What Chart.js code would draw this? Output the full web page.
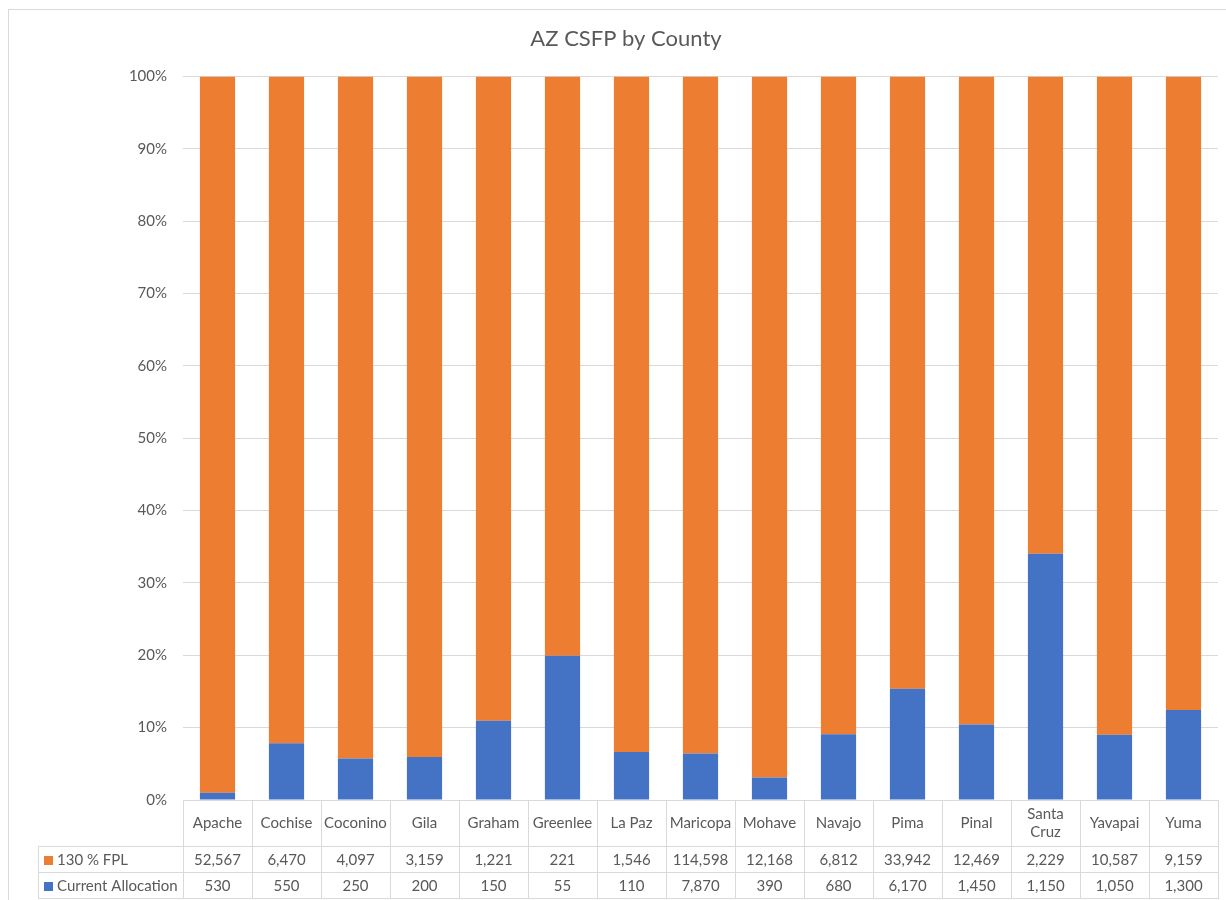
<!DOCTYPE html>
<html>
<head>
<meta charset="utf-8">
<title>AZ CSFP by County</title>
<script src="https://cdn.jsdelivr.net/npm/chart.js@4"></script>
<style>
  html, body { margin: 0; padding: 0; background: #fff; }
  canvas { display: block; }
</style>
</head>
<body>
<canvas id="grafico" width="1226" height="900"></canvas>
<script>
const counties = ['Apache', 'Cochise', 'Coconino', 'Gila', 'Graham', 'Greenlee', 'La Paz', 'Maricopa',
  'Mohave', 'Navajo', 'Pima', 'Pinal', 'Santa Cruz', 'Yavapai', 'Yuma'];
const fpl130 = [52567, 6470, 4097, 3159, 1221, 221, 1546, 114598, 12168, 6812, 33942, 12469, 2229, 10587, 9159];
const allocation = [530, 550, 250, 200, 150, 55, 110, 7870, 390, 680, 6170, 1450, 1150, 1050, 1300];
const yTicks = [0, 10, 20, 30, 40, 50, 60, 70, 80, 90, 100];

const seriesNames = ['130 % FPL', 'Current Allocation'];
const corLaranja = '#ED7D31';
const corAzul = '#4472C4';
const corTexto = '#595959';
const corLinha = '#d9d9d9';
const fonte = 'Lato, "Open Sans", sans-serif';

// percentuais para o empilhado 100%
const allocPct = allocation.map((v, i) => v / (v + fpl130[i]) * 100);
const fplPct = fpl130.map((v, i) => v / (v + allocation[i]) * 100);

const fmt = n => n.toLocaleString('en-US');

const moldura = {
  id: 'moldura',
  beforeDraw(chart) {
    const c = chart.ctx;
    c.save();
    c.fillStyle = '#fff';
    c.fillRect(0, 0, chart.width, chart.height);
    c.strokeStyle = corLinha;
    c.lineWidth = 1;
    c.strokeRect(8.5, 9.5, chart.width + 10, chart.height + 10);
    c.restore();
  }
};

const tabelaDados = {
  id: 'tabelaDados',
  afterDraw(chart) {
    const c = chart.ctx;
    const area = chart.chartArea;
    const xs = chart.scales.x;
    const n = counties.length;
    const colW = (area.right - area.left) / n;
    const topo = Math.round(area.bottom);
    const linha1 = topo + 46;
    const linha2 = linha1 + 26;
    const linha3 = linha2 + 26;
    const esq = 38;

    c.save();
    c.strokeStyle = corLinha;
    c.lineWidth = 1;
    c.beginPath();
    for (let i = 0; i <= n; i++) {
      const x = Math.round(area.left + i * colW) + 0.5;
      c.moveTo(x, topo);
      c.lineTo(x, linha3 + 0.5);
    }
    c.moveTo(esq + 0.5, linha1);
    c.lineTo(esq + 0.5, linha3 + 0.5);
    [linha1, linha2, linha3].forEach(y => {
      c.moveTo(esq, y + 0.5);
      c.lineTo(Math.round(area.right) + 1, y + 0.5);
    });
    c.stroke();

    c.fillStyle = corTexto;
    c.font = '15px ' + fonte;
    c.textAlign = 'center';
    c.textBaseline = 'middle';
    const yCab = (topo + linha1) / 2;
    counties.forEach((nome, i) => {
      const x = xs.getPixelForValue(i);
      if (nome.includes(' ') && c.measureText(nome).width > colW - 10) {
        const partes = nome.split(' ');
        c.fillText(partes[0], x, yCab - 9);
        c.fillText(partes.slice(1).join(' '), x, yCab + 9);
      } else {
        c.fillText(nome, x, yCab);
      }
    });

    const linhas = [
      { nome: seriesNames[0], cor: corLaranja, valores: fpl130, y: (linha1 + linha2) / 2 + 1 },
      { nome: seriesNames[1], cor: corAzul, valores: allocation, y: (linha2 + linha3) / 2 + 1 }
    ];
    linhas.forEach(l => {
      c.fillStyle = l.cor;
      c.fillRect(44, Math.round(l.y - 4.5), 9, 9);
      c.fillStyle = corTexto;
      c.textAlign = 'left';
      c.fillText(l.nome, 57, l.y);
      c.textAlign = 'center';
      l.valores.forEach((v, i) => {
        c.fillText(fmt(v), xs.getPixelForValue(i), l.y);
      });
    });
    c.restore();
  }
};

const ctx = document.getElementById('grafico').getContext('2d');
new Chart(ctx, {
  type: 'bar',
  data: {
    labels: counties,
    datasets: [
      {
        label: seriesNames[1],
        data: allocPct,
        backgroundColor: corAzul,
        barPercentage: 0.51,
        categoryPercentage: 1
      },
      {
        label: seriesNames[0],
        data: fplPct,
        backgroundColor: corLaranja,
        barPercentage: 0.51,
        categoryPercentage: 1
      }
    ]
  },
  options: {
    responsive: false,
    animation: false,
    // left padding maior só para centrar o título como no original
    layout: { padding: { left: 34, right: 8, top: 0, bottom: 100 } },
    plugins: {
      legend: { display: false },
      tooltip: { enabled: false },
      title: {
        display: true,
        text: 'AZ CSFP by County',
        color: corTexto,
        font: { family: fonte, size: 22, weight: 'normal' },
        padding: { top: 26, bottom: 24 }
      }
    },
    scales: {
      x: { stacked: true, display: false },
      y: {
        stacked: true,
        min: 0,
        max: 100,
        afterBuildTicks: s => { s.ticks = yTicks.map(v => ({ value: v })); },
        afterFit: s => { s.width = 149; },
        ticks: {
          callback: v => v + '%',
          color: corTexto,
          font: { family: fonte, size: 15 },
          padding: 16
        },
        grid: { color: corLinha, drawTicks: false },
        border: { display: false }
      }
    }
  },
  plugins: [moldura, tabelaDados]
});
</script>
</body>
</html>
